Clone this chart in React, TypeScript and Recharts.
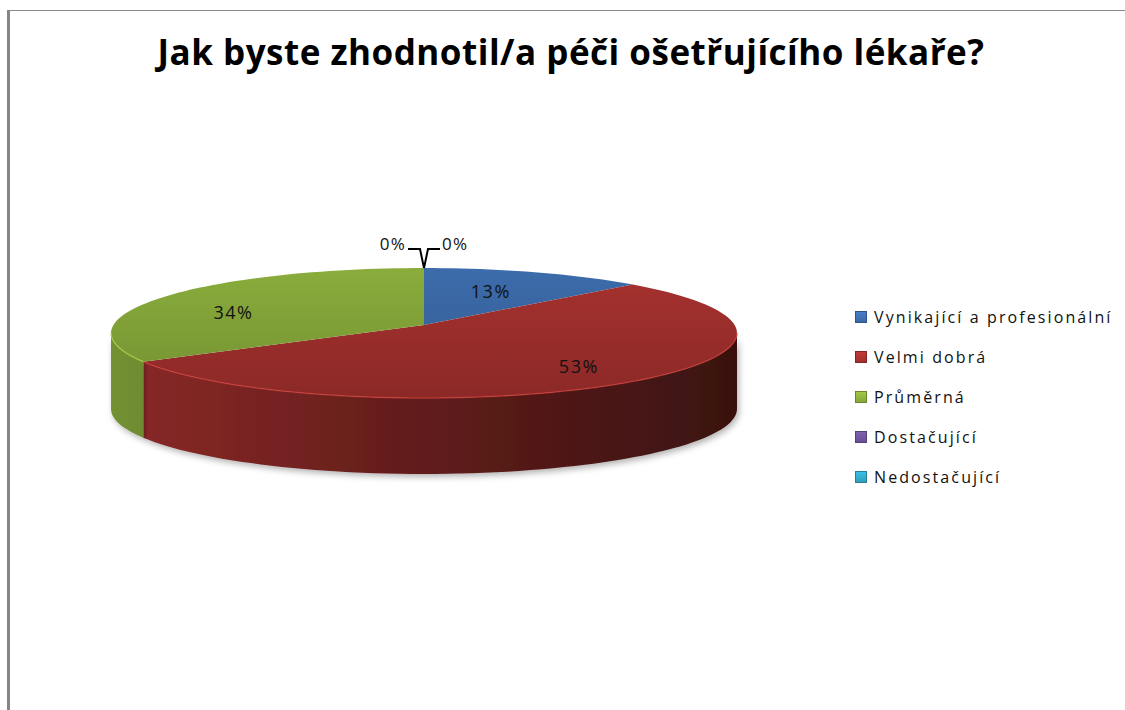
import React from "react";
import { PieChart, Pie, Cell, Legend } from "recharts";

// survey answers, in the order Excel stacks them clockwise from 12 o'clock
const categories = [
  "Vynikající a profesionální",
  "Velmi dobrá",
  "Průměrná",
  "Dostačující",
  "Nedostačující",
];
const shares = [13, 53, 34, 0, 0];
const colors = ["#3b69a6", "#a2302d", "#86a73a", "#6b4f93", "#2f9fbd"];

const data = categories.map((name, i) => ({ name, value: shares[i] }));

// fake perspective for the 3D look: far half is squeezed
const CX = 424;
const CY = 325;
const SX = 310.6;
const SY = 64;
const K = -0.123;
const DEPTH = 76;
const FONT = "'Open Sans', Lato, sans-serif";

// theta = degrees clockwise from the top of the disc
const project = (r: number, theta: number) => {
  const t = (theta * Math.PI) / 180;
  const X = r * Math.sin(t);
  const Z = -r * Math.cos(t);
  const w = 1 + K * Z;
  return [CX + (SX * X) / w, CY + (SY * Z) / w];
};

const toTheta = (angle: number) => 90 - angle;

const shade = (hex: string, f: number) => {
  const n = parseInt(hex.slice(1), 16);
  const c = [(n >> 16) & 255, (n >> 8) & 255, n & 255].map((v) =>
    Math.round(Math.min(255, v * f))
  );
  return `rgb(${c[0]},${c[1]},${c[2]})`;
};

const rimPoints = (t0: number, t1: number, r = 1) => {
  const pts: number[][] = [];
  const steps = Math.max(2, Math.ceil(Math.abs(t1 - t0) / 2));
  for (let i = 0; i <= steps; i++) pts.push(project(r, t0 + ((t1 - t0) * i) / steps));
  return pts;
};

const SIDE_MIN = (Math.acos(K) * 180) / Math.PI;
const SIDE_MAX = 360 - SIDE_MIN;

const Slice3D = (props: any) => {
  const { startAngle, endAngle, fill, name } = props;
  const t0 = toTheta(startAngle);
  const t1 = toTheta(endAngle);
  if (Math.abs(t1 - t0) < 0.01) return <g />;
  const id = `s${categories.indexOf(name)}`;

  const a = Math.max(t0, SIDE_MIN);
  const b = Math.min(t1, SIDE_MAX);
  let side = null;
  let rim = null;
  if (b > a) {
    const top = rimPoints(a, b);
    const bottom = top.map(([x, y]) => [x, y + DEPTH]).reverse();
    const d =
      "M" + top.map((p) => p.join(",")).join("L") + "L" + bottom.map((p) => p.join(",")).join("L") + "Z";
    side = <path d={d} fill={`url(#${id}-side)`} filter="url(#pieShadow)" />;
    rim = (
      <path
        d={"M" + top.map((p) => p.join(",")).join("L")}
        fill="none"
        stroke={shade(fill, 1.25)}
        strokeWidth={1.5}
        strokeOpacity={0.7}
      />
    );
  }

  const c = project(0, 0);
  const arc = rimPoints(t0, t1);
  const topPath = `M${c.join(",")}L` + arc.map((p) => p.join(",")).join("L") + "Z";

  return (
    <g>
      <defs>
        <linearGradient id={`${id}-side`} gradientUnits="userSpaceOnUse" x1={CX - SX} y1={0} x2={CX + SX} y2={0}>
          <stop offset="0" stopColor={shade(fill, 0.86)} />
          <stop offset="0.5" stopColor={shade(fill, 0.6)} />
          <stop offset="1" stopColor={shade(fill, 0.36)} />
        </linearGradient>
        <linearGradient id={`${id}-top`} gradientUnits="userSpaceOnUse" x1={0} y1={CY - SY} x2={0} y2={CY + SY + 10}>
          <stop offset="0" stopColor={shade(fill, 1.04)} />
          <stop offset="1" stopColor={shade(fill, 0.86)} />
        </linearGradient>
      </defs>
      {side}
      <path d={topPath} fill={`url(#${id}-top)`} />
      {rim}
    </g>
  );
};

const renderLabel = (props: any) => {
  const { midAngle, percent, index } = props;
  const txt = `${Math.round(percent * 100)}%`;
  if (percent === 0) {
    const [px, py] = project(1, toTheta(midAngle));
    const left = index % 2 === 1;
    const dir = left ? -1 : 1;
    const barY = py - 19;
    return (
      <g key={`l${index}`}>
        <polyline
          points={`${px + dir * 16},${barY} ${px + dir * 4},${barY} ${px},${py}`}
          fill="none"
          stroke="#000"
          strokeWidth={2}
        />
        <text
          x={px + dir * 18}
          y={barY - 6}
          textAnchor={left ? "end" : "start"}
          dominantBaseline="central"
          fontFamily={FONT}
          fontSize={17}
          letterSpacing={1.2}
          fill="#111"
        >
          {txt}
        </text>
      </g>
    );
  }
  const [x, y] = project(0.7, toTheta(midAngle) - 4);
  return (
    <text
      key={`l${index}`}
      x={x}
      y={y + 5}
      textAnchor="middle"
      dominantBaseline="central"
      fontFamily={FONT}
      fontSize={18}
      letterSpacing={1.5}
      fill="#111"
    >
      {txt}
    </text>
  );
};

const LegendBox = ({ payload }: any) => {
  const items = [...(payload || [])].sort(
    (p: any, q: any) => categories.indexOf(p.value) - categories.indexOf(q.value)
  );
  return (
    <div style={{ fontFamily: FONT, fontSize: 16, letterSpacing: 2.1, color: "#111" }}>
      {items.map((p: any) => (
        <div key={p.value} style={{ display: "flex", alignItems: "center", height: 40 }}>
          <span
            style={{
              width: 10,
              height: 10,
              marginRight: 7,
              background: `linear-gradient(${shade(p.color, 1.2)}, ${p.color})`,
              border: `1px solid ${shade(p.color, 0.8)}`,
            }}
          />
          {p.value}
        </div>
      ))}
    </div>
  );
};

export default function App() {
  return (
    <div style={{ position: "absolute", left: 0, top: 0, width: 1125, height: 710, background: "#fff" }}>
      <div style={{ position: "absolute", left: 8, top: 10, width: 1117, height: 1, background: "#8a8a8a" }} />
      <div style={{ position: "absolute", left: 7, top: 10, width: 3, height: 700, background: "#868686" }} />
      <div
        style={{
          position: "absolute",
          left: 0,
          top: 28,
          width: 1142,
          textAlign: "center",
          fontFamily: FONT,
          fontWeight: 700,
          fontSize: 35,
          letterSpacing: 0.5,
          color: "#000",
        }}
      >
        Jak byste zhodnotil/a péči ošetřujícího lékaře?
      </div>
      <div style={{ position: "absolute", left: 0, top: 0 }}>
        <PieChart width={1125} height={710}>
          <defs>
            <filter id="pieShadow" x="-10%" y="-20%" width="120%" height="160%">
              <feDropShadow dx={2} dy={3} stdDeviation={3} floodColor="#000" floodOpacity={0.3} />
            </filter>
          </defs>
          <Pie
            data={data}
            dataKey="value"
            nameKey="name"
            cx={CX}
            cy={CY}
            outerRadius={SX}
            startAngle={90}
            endAngle={-270}
            stroke="none"
            shape={Slice3D}
            label={renderLabel}
            labelLine={false}
            legendType="square"
            isAnimationActive={false}
          >
            {data.map((d, i) => (
              <Cell key={d.name} fill={colors[i]} />
            ))}
          </Pie>
          <Legend
            layout="vertical"
            align="right"
            verticalAlign="top"
            wrapperStyle={{ left: 855, top: 297, width: 270 }}
            content={<LegendBox />}
          />
        </PieChart>
      </div>
    </div>
  );
}
